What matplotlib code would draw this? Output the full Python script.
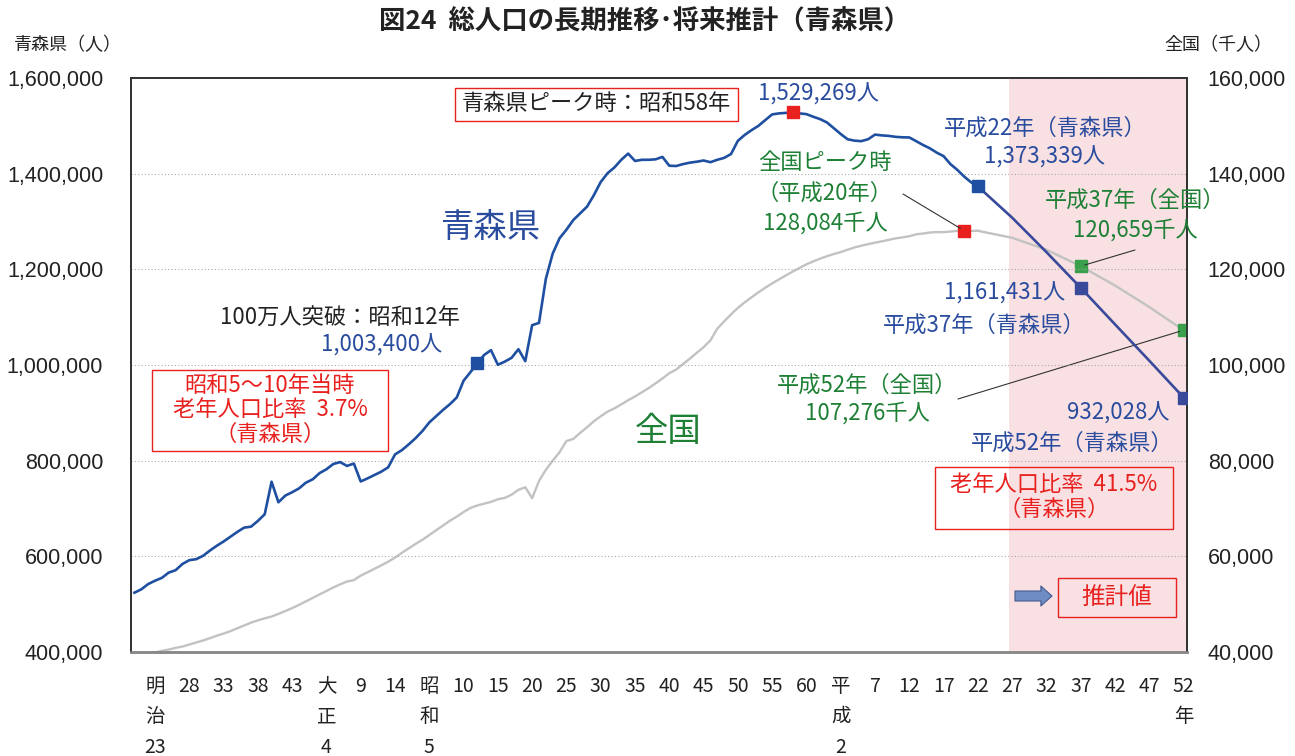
import matplotlib
matplotlib.use("Agg")
import matplotlib.pyplot as plt
from matplotlib.patches import Rectangle

plt.rcParams["font.family"] = ["Noto Sans CJK JP", "DejaVu Sans"]

# ---------------------------------------------------------------------------
# Data
# ---------------------------------------------------------------------------
# 青森県 (people), 1887 (明治20) .. 2010 (平成22), one value per year
aomori_years = list(range(1887, 2011))
aomori_pop = [
    524000, 531000, 542000, 549000, 555000, 566000, 571000, 584000, 592000, 594000,
    601000, 612000, 622000, 631000, 641000, 651000, 660000, 662000, 674000, 688000,
    756000, 713000, 727000, 734000, 742000, 754000, 761000, 774000, 782000, 793000,
    797000, 789000, 794000, 756454, 763000, 770000, 777000, 786000, 812977, 822000,
    834000, 847000, 862000, 879914, 893000, 906000, 918000, 932000, 967129, 985000,
    1003400, 1021000, 1031000, 1000509, 1007000, 1015000, 1033000, 1008000, 1083250, 1088000,
    1180245, 1233000, 1265000, 1282867, 1303000, 1317000, 1331000, 1355000, 1382523, 1401000,
    1413000, 1429000, 1442000, 1426606, 1429000, 1429000, 1430000, 1435000, 1416591, 1416000,
    1420000, 1423000, 1425000, 1427520, 1424000, 1429000, 1433000, 1441000, 1468646, 1481000,
    1491000, 1500000, 1512000, 1523907, 1526000, 1527000, 1529269, 1526000, 1524448, 1519000,
    1514000, 1507000, 1495000, 1482873, 1472000, 1469000, 1468000, 1472000, 1481663, 1480000,
    1479000, 1477000, 1476000, 1475728, 1468000, 1460000, 1453000, 1444000, 1436657, 1420000,
    1408000, 1394000, 1382000, 1373339,
]
# 青森県 projection
aomori_proj_years = [2010, 2015, 2020, 2025, 2030, 2035, 2040]
aomori_proj_pop = [1373339, 1308000, 1236000, 1161431, 1085000, 1009000, 932028]

# 全国 (thousand people), 1890 .. 2010, one value per year
japan_years = list(range(1890, 2011))
japan_pop = [
    39902, 40251, 40508, 40860, 41142, 41557, 41992, 42400, 42886, 43404,
    43847, 44359, 44964, 45546, 46135, 46620, 47038, 47416, 47965, 48554,
    49184, 49852, 50577, 51305, 52039, 52752, 53496, 54134, 54739, 55033,
    55963, 56666, 57390, 58119, 58876, 59737, 60741, 61659, 62595, 63461,
    64450, 65457, 66434, 67432, 68309, 69254, 70114, 70630, 71013, 71380,
    71933, 72218, 72880, 73903, 74433, 72147, 75750, 78101, 80002, 81773,
    84115, 84541, 85808, 86981, 88239, 89276, 90259, 90928, 91767, 92641,
    93419, 94287, 95181, 96156, 97182, 98275, 99036, 100196, 101331, 102536,
    103720, 105145, 107595, 109104, 110573, 111940, 113094, 114165, 115190, 116155,
    117060, 117902, 118728, 119536, 120305, 121049, 121660, 122239, 122745, 123205,
    123611, 124101, 124567, 124938, 125265, 125570, 125859, 126157, 126472, 126667,
    126926, 127316, 127486, 127694, 127787, 127768, 127901, 128033, 128084, 128032,
    128057,
]
japan_proj_years = [2010, 2015, 2020, 2025, 2030, 2035, 2040]
japan_proj_pop = [128057, 126597, 124100, 120659, 116618, 112124, 107276]

# highlighted points
aomori_mark_years = [1937, 2010]
aomori_peak_year = 1983
aomori_proj_mark_years = [2025, 2040]
japan_peak_year = 2008
japan_mark_years = [2025, 2040]

tick_years = list(range(1890, 2041, 5))
tick_labels = ["明\n治\n23", "28", "33", "38", "43", "大\n正\n4", "9", "14",
               "昭\n和\n5", "10", "15", "20", "25", "30", "35", "40", "45", "50",
               "55", "60", "平\n成\n2", "7", "12", "17", "22", "27", "32", "37",
               "42", "47", "52\n年"]
left_ticks = [400000, 600000, 800000, 1000000, 1200000, 1400000, 1600000]
right_ticks = [40000, 60000, 80000, 100000, 120000, 140000, 160000]
proj_start = 2014.5

# ---------------------------------------------------------------------------
# Style
# ---------------------------------------------------------------------------
BLUE = "#1F4FA0"
BLUE_TXT = "#2A4C9E"
NAVY = "#3A4A9A"
GRAY = "#C2C2C2"
RED = "#E8201E"
GREEN_TXT = "#1E8035"
GREEN = "#3AA04C"
PINK = "#F9E0E3"

W, H = 1295, 756
fig = plt.figure(figsize=(W / 100, H / 100), dpi=100)
ax = fig.add_axes([131 / W, 1 - 652 / H, (1187 - 131) / W, (652 - 78) / H])
ax2 = ax.twinx()
ax.set_zorder(ax2.get_zorder() + 1)
ax.patch.set_visible(False)

# shaded projection region + national line on the lower axes
ax2.axvspan(proj_start, 2040.5, color=PINK, lw=0, zorder=0)
ax2.plot(japan_years, japan_pop, color=GRAY, lw=1.7, zorder=2)
ax2.plot(japan_proj_years, japan_proj_pop, color=GRAY, lw=1.7, zorder=2)
jp = dict(zip(japan_years + japan_proj_years, japan_pop + japan_proj_pop))
ax2.plot([japan_peak_year], [jp[japan_peak_year]], "s", color=RED, ms=9, zorder=3)
ax2.plot(japan_mark_years, [jp[y] for y in japan_mark_years], "s", color=GREEN,
         ms=9, zorder=3)

# 青森県 line on top
ax.plot(aomori_years, aomori_pop, color=BLUE, lw=1.9, zorder=3)
ax.plot(aomori_proj_years, aomori_proj_pop, color=NAVY, lw=1.9, zorder=3)
ao = dict(zip(aomori_years + aomori_proj_years, aomori_pop + aomori_proj_pop))
ax.plot(aomori_mark_years, [ao[y] for y in aomori_mark_years], "s", color=BLUE,
        ms=8.5, zorder=4)
ax.plot([aomori_peak_year], [ao[aomori_peak_year]], "s", color=RED, ms=8.5, zorder=4)
ax.plot(aomori_proj_mark_years, [ao[y] for y in aomori_proj_mark_years], "s",
        color=NAVY, ms=8.5, zorder=4)

# axes
ax.set_xlim(1886.5, 2040.5)
ax.set_ylim(400000, 1600000)
ax2.set_ylim(40000, 160000)
ax.set_xticks(tick_years)
ax.set_xticklabels(tick_labels, fontsize=14, color="#222222", linespacing=1.6)
ax.tick_params(axis="x", length=0, pad=17)
ax.set_yticks(left_ticks)
ax.set_yticklabels([f"{v:,}" for v in left_ticks], fontfamily="Liberation Sans",
                   fontsize=15.5, color="#222222")
ax.tick_params(axis="y", length=0, pad=20)
ax2.set_yticks(right_ticks)
ax2.set_yticklabels([f"{v:,}" for v in right_ticks], fontfamily="Liberation Sans",
                    fontsize=15.5, color="#222222")
ax2.tick_params(axis="y", length=0, pad=15)
ax.grid(axis="y", color="#AAAAAA", lw=0.8, linestyle=(0, (1, 2)))
ax.set_axisbelow(True)
for a in (ax, ax2):
    for side in ("left", "right", "top"):
        a.spines[side].set_color("#333333")
        a.spines[side].set_linewidth(1.3)
    a.spines["bottom"].set_color("#888888")
    a.spines["bottom"].set_linewidth(1.8)


# ---------------------------------------------------------------------------
# Annotations (positions in image pixels, from top-left)
# ---------------------------------------------------------------------------
def label(x, y, s, color, size=16, ls=1.0, ha="center", **kw):
    fig.text(x / W, 1 - y / H, s, color=color, fontsize=size, ha=ha, va="center",
             linespacing=ls, multialignment="center", **kw)


def frame(x0, y0, x1, y1, color=RED):
    fig.add_artist(Rectangle((x0 / W, 1 - y1 / H), (x1 - x0) / W, (y1 - y0) / H,
                             transform=fig.transFigure, fill=False, ec=color, lw=1.0))


def leader(x, y, year, value):
    ax2.annotate("", xy=(year, value), xytext=(x, H - y), textcoords="figure pixels",
                 arrowprops=dict(arrowstyle="-", color="#333333", lw=0.8,
                                 shrinkA=0, shrinkB=3))


label(645, 22, "図24  総人口の長期推移･将来推計（青森県）", "#222222", size=19,
      fontweight="bold")
label(68, 45, "青森県（人）", "#222222", size=13)
label(1218, 45, "全国（千人）", "#222222", size=13)

frame(455, 88, 738, 121)
label(596, 104, "青森県ピーク時：昭和58年", "#222222")
label(818, 94, "1,529,269人", BLUE_TXT)
label(490, 228, "青森県", BLUE_TXT, size=24)
label(668, 432, "全国", GREEN_TXT, size=24)

label(340, 317, "100万人突破：昭和12年", "#222222")
label(382, 345, "1,003,400人", BLUE_TXT)

frame(152, 370, 388, 451)
label(270, 410, "昭和5〜10年当時\n老年人口比率  3.7%\n（青森県）", RED, ls=1.08)

label(825, 193, "全国ピーク時\n（平成20年）\n128,084千人", GREEN_TXT, ls=1.42)
leader(903, 194, japan_peak_year, jp[japan_peak_year])

label(1045, 143, "平成22年（青森県）\n1,373,339人", BLUE_TXT, ls=1.33)
label(1135, 215, "平成37年（全国）\n120,659千人", GREEN_TXT, ls=1.42)
leader(1135, 250, 2025, jp[2025])

label(1005, 293, "1,161,431人", BLUE_TXT)
label(984, 325, "平成37年（青森県）", BLUE_TXT)

label(867, 399, "平成52年（全国）\n107,276千人", GREEN_TXT, ls=1.25)
leader(958, 399, 2040, jp[2040])

label(1118, 413, "932,028人", BLUE_TXT)
label(1072, 443, "平成52年（青森県）", BLUE_TXT)

frame(935, 467, 1173, 529)
label(1054, 497, "老年人口比率  41.5%\n（青森県）", RED, ls=1.08)

ax2.annotate("", xy=(1052, H - 596), xycoords="figure pixels",
             xytext=(1015, H - 596), textcoords="figure pixels",
             arrowprops=dict(arrowstyle="simple,head_length=0.5,head_width=0.9,tail_width=0.45",
                             fc="#6F8DC4", ec="#44598E", lw=0.8, mutation_scale=16,
                             shrinkA=0, shrinkB=0))
frame(1058, 578, 1176, 617)
label(1117, 598, "推計値", RED, size=17)

fig.savefig("out.png", dpi=100)
